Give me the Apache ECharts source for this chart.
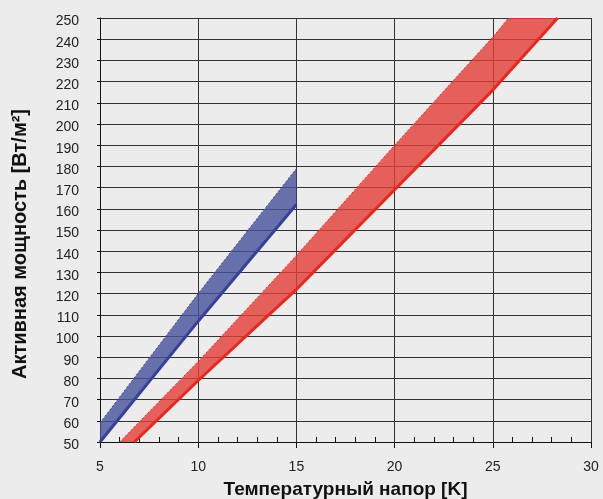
<!DOCTYPE html>
<html>
  <head>
    <meta charset="utf-8" />
    <title>Активная мощность</title>
    <style>
      body {
        margin: 0;
        padding: 0;
        background: #ececec;
      }
      #chart {
        width: 603px;
        height: 499px;
      }
    </style>
    <script src="https://cdn.jsdelivr.net/npm/echarts@6/dist/echarts.min.js"></script>
  </head>
  <body>
    <div id="chart"></div>
    <script type="text/javascript">
      // x: температурный напор [K], y: мощность [Вт/м2]
      var blueLower = [[5, 50], [10, 107], [15, 162]];
      var blueUpper = [[5, 59], [10, 120], [15, 179]];
      var redLower = [[6.75, 50], [10, 79], [15, 122], [20, 169], [25, 216], [28.3, 250]];
      var redUpper = [[6.0, 50], [10, 88], [15, 138], [20, 190], [25, 241], [25.8, 250]];

      var xMin = 5, xMax = 30, xStep = 5;
      var yMin = 50, yMax = 250, yStep = 10;

      var font = 'Liberation Sans, Arial, sans-serif';

      function band(upper, lower, fill) {
        return {
          type: 'custom',
          clip: true,
          silent: true,
          z: 2,
          data: [[xMin, yMin]],
          renderItem: function (params, api) {
            var pts = upper.concat(lower.slice().reverse()).map(function (p) {
              return api.coord(p);
            });
            return {
              type: 'polygon',
              shape: { points: pts },
              style: { fill: fill }
            };
          }
        };
      }

      function edge(data, color, width, dash) {
        return {
          type: 'line',
          data: data,
          symbol: 'none',
          silent: true,
          z: 3,
          lineStyle: { color: color, width: width, type: dash || 'solid' }
        };
      }

      var chart = echarts.init(document.getElementById('chart'));
      chart.setOption({
        animation: false,
        backgroundColor: '#ececec',
        grid: { left: 100, right: 12, top: 18, bottom: 57, outerBoundsMode: 'none', containLabel: false },
        xAxis: {
          type: 'value',
          min: xMin,
          max: xMax,
          interval: xStep,
          name: 'Температурный напор [K]',
          nameLocation: 'middle',
          nameGap: 38,
          nameTextStyle: { fontFamily: font, fontWeight: 'bold', fontSize: 19, color: '#111' },
          axisLine: { lineStyle: { color: '#111', width: 1 } },
          axisTick: { show: true, length: 6, lineStyle: { color: '#111' } },
          minorTick: { show: true, splitNumber: 5, length: -5, lineStyle: { color: '#111' } },
          axisLabel: { fontFamily: font, fontSize: 14, color: '#222', margin: 18 },
          splitLine: { show: true, lineStyle: { color: '#333', width: 1 } }
        },
        yAxis: {
          type: 'value',
          min: yMin,
          max: yMax,
          interval: yStep,
          name: 'Активная мощность [Вт/м²]',
          nameLocation: 'middle',
          nameGap: 70,
          nameTextStyle: {
            fontFamily: font,
            fontWeight: 'bold',
            fontSize: 20,
            color: '#111',
            padding: [0, 28, 0, 0]
          },
          axisLine: { show: true, lineStyle: { color: '#111', width: 1 } },
          axisTick: { show: true, length: 3, lineStyle: { color: '#111' } },
          axisLabel: {
            fontFamily: font,
            fontSize: 14,
            color: '#222',
            margin: 21,
            verticalAlign: 'top',
            lineHeight: 7
          },
          splitLine: { show: true, lineStyle: { color: '#333', width: 1 } }
        },
        series: [
          band(blueUpper, blueLower, 'rgba(71, 81, 156, 0.8)'),
          band(redUpper, redLower, 'rgba(228, 60, 55, 0.8)'),
          edge(blueUpper, '#3c4596', 1, [2, 2]),
          edge(blueLower, '#38419a', 3),
          edge(redUpper, '#e0302a', 1, [2, 2]),
          edge(redLower, '#e8281e', 3)
        ]
      });
    </script>
  </body>
</html>
